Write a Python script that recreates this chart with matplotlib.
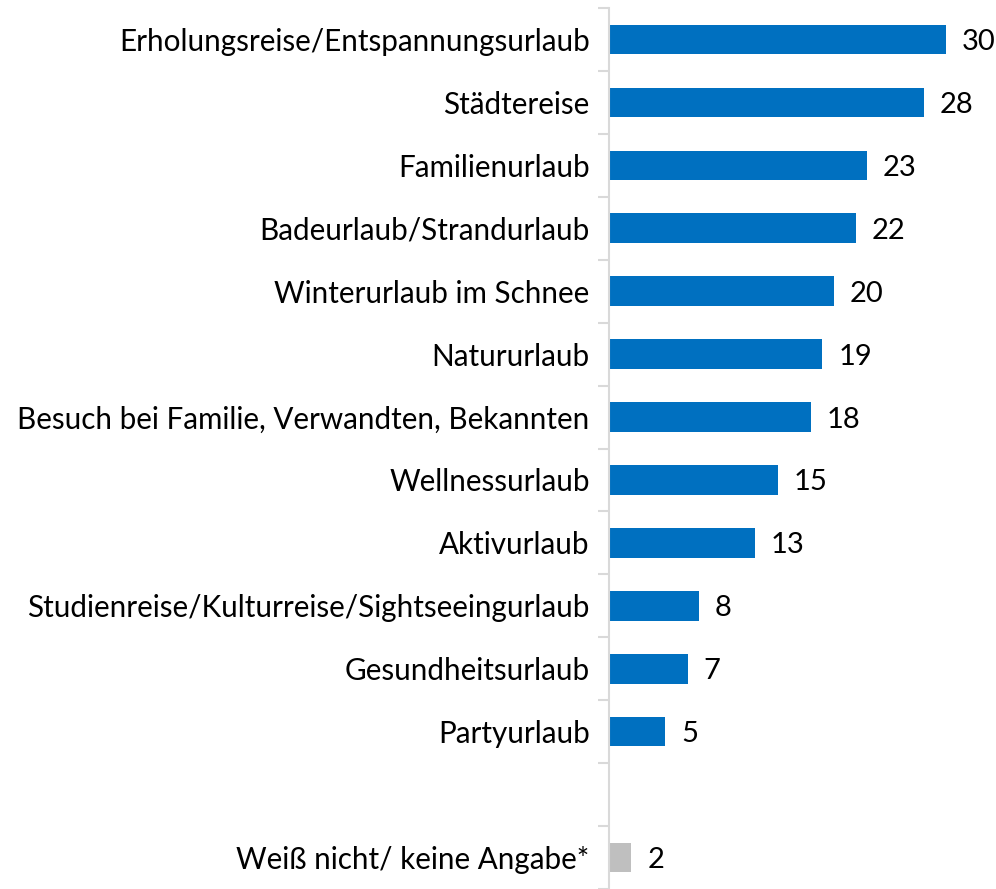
import matplotlib
matplotlib.use("Agg")
import matplotlib.pyplot as plt

categories = ["Erholungsreise/Entspannungsurlaub", "Städtereise", "Familienurlaub",
              "Badeurlaub/Strandurlaub", "Winterurlaub im Schnee", "Natururlaub",
              "Besuch bei Familie, Verwandten, Bekannten", "Wellnessurlaub", "Aktivurlaub",
              "Studienreise/Kulturreise/Sightseeingurlaub", "Gesundheitsurlaub", "Partyurlaub",
              "", "Weiß nicht/ keine Angabe*"]
values = [30, 28, 23, 22, 20, 19, 18, 15, 13, 8, 7, 5, None, 2]
colors = ["#0070C0"] * 12 + [None, "#BFBFBF"]

plt.rcParams['font.family'] = ['Lato', 'DejaVu Sans']
fig = plt.figure(figsize=(9.96, 8.89), dpi=100)
ax = fig.add_axes([609/996, 0, 1 - 609/996, 1 - 8/889])

for i, (v, c) in enumerate(zip(values, colors)):
    if v is None:
        continue
    ax.barh(i, v, height=0.47, color=c)
    ax.text(v + 1.4, i, str(v), va='center_baseline', ha='left', fontsize=21, color='black')

ax.set_ylim(len(categories) - 0.5, -0.5)
ax.set_xlim(0, (996 - 609) / (337 / 30))
ax.set_yticks(range(len(categories)))
ax.set_yticklabels(categories, fontsize=21.3, va='center_baseline')
ax.set_yticks([i - 0.5 for i in range(len(categories) + 1)], minor=True)
ax.tick_params(axis='y', which='major', length=0, pad=14)
ax.tick_params(axis='y', which='minor', length=8, color='#D9D9D9', width=1.5)
ax.set_xticks([])
for s in ['top', 'right', 'bottom']:
    ax.spines[s].set_visible(False)
ax.spines['left'].set_color('#D9D9D9')
ax.spines['left'].set_linewidth(1.5)

fig.savefig("out.png", dpi=100)
